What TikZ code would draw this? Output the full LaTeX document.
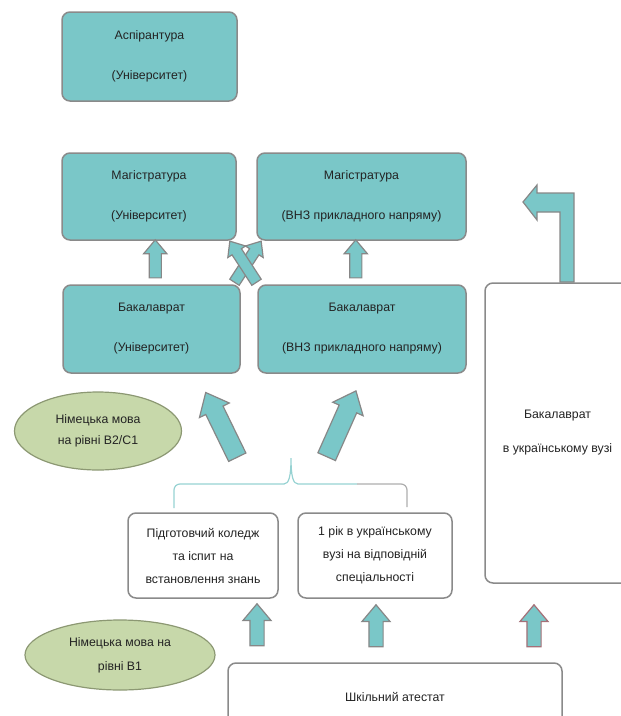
\documentclass[tikz,border=0pt]{standalone}
\usepackage{fontspec}
\setmainfont{Liberation Sans}
\usetikzlibrary{shapes.geometric,shapes.arrows,calc}

\definecolor{tealbox}{RGB}{122,199,200}
\definecolor{boxline}{RGB}{138,138,138}
\definecolor{ovalfill}{RGB}{199,216,170}
\definecolor{ovalline}{RGB}{140,152,115}
\definecolor{arrowline}{RGB}{135,135,135}
\definecolor{pinkline}{RGB}{165,112,120}
\definecolor{textgray}{RGB}{35,35,35}
\definecolor{bracecol}{RGB}{150,210,210}

\begin{document}
\begin{tikzpicture}[x=1pt, y=-1pt,
    bigbox/.style={draw=boxline, line width=1.5pt, fill=tealbox, rounded corners=8pt,
        align=center, text=textgray, inner sep=0pt, font=\fontsize{12.3}{40}\selectfont},
    whitebox/.style={draw=boxline, line width=1.5pt, fill=white, rounded corners=8pt,
        align=center, text=textgray, inner sep=0pt, font=\fontsize{12.3}{23}\selectfont},
    oval/.style={ellipse, draw=ovalline, line width=1.2pt, fill=ovalfill,
        align=center, text=textgray, inner sep=0pt, font=\fontsize{12.3}{21}\selectfont},
    blockarrow/.style={single arrow, draw=arrowline, fill=tealbox, line width=1.2pt,
        inner xsep=0pt, single arrow tip angle=80},
    smallup/.style={blockarrow, rotate=90, minimum height=38pt, inner ysep=5.5pt,
        single arrow head extend=5.5pt},
    lowup/.style={blockarrow, rotate=90, minimum height=42pt, inner ysep=6.5pt,
        single arrow head extend=7pt},
    crossarrow/.style={blockarrow, minimum height=49pt, inner ysep=5pt,
        single arrow head extend=5pt},
    fatarrow/.style={blockarrow, minimum height=72pt, inner ysep=9pt,
        single arrow head extend=7pt}
]
    \clip (0,0) rectangle (621,716);

    % Top levels
    \node[bigbox, minimum width=175pt, minimum height=89pt] (asp) at (149.5,56.5)
        {Аспірантура\\(Університет)};
    \node[bigbox, minimum width=174pt, minimum height=87pt] (mu) at (149,196.5)
        {Магістратура\\(Університет)};
    \node[bigbox, minimum width=209pt, minimum height=87pt] (mv) at (361.5,196.5)
        {Магістратура\\(ВНЗ прикладного напряму)};
    \node[bigbox, minimum width=177pt, minimum height=88pt] (bu) at (151.5,329)
        {Бакалаврат\\(Університет)};
    \node[bigbox, minimum width=208pt, minimum height=88pt] (bv) at (362,329)
        {Бакалаврат\\(ВНЗ прикладного напряму)};

    % Ukrainian bachelor, cut off at the right edge
    \node[whitebox, minimum width=145pt, minimum height=300pt,
        font=\fontsize{12.3}{34}\selectfont] (ub) at (557.5,433)
        {Бакалаврат\\в українському вузі};

    % Language levels
    \node[oval, minimum width=167pt, minimum height=78pt] (lang2) at (98,431)
        {Німецька мова\\на рівні B2/C1};
    \node[oval, minimum width=190pt, minimum height=70pt,
        font=\fontsize{12.3}{24}\selectfont] (lang1) at (120,655)
        {Німецька мова на\\рівні B1};

    % Ways in
    \node[whitebox, minimum width=150pt, minimum height=85pt] (prep) at (203,555.5)
        {Підготовчий коледж\\та іспит на\\встановлення знань};
    \node[whitebox, minimum width=154pt, minimum height=85pt] (year) at (375,555.5)
        {1 рік в українському\\вузі на відповідній\\спеціальності};
    \node[whitebox, minimum width=334pt, minimum height=68pt] (school) at (395,697)
        {Шкільний атестат};

    % Brace over the two ways in
    \coordinate (brL) at (174,508);
    \coordinate (brM) at (291,458);
    \coordinate (brS) at (357,484);
    \coordinate (brR) at (407,507);
    \draw[bracecol, line width=1.2pt, rounded corners=6pt]
        (brL) -- (174,484) -- (284,484);
    \draw[bracecol, line width=1.2pt]
        (284,484) .. controls (289,484) and (291,476) .. (brM)
        .. controls (291,476) and (293,484) .. (298,484) -- (brS);
    \draw[boxline!70, line width=1.2pt, rounded corners=6pt]
        (brS) -- (407,484) -- (brR);

    % Block arrows
    \node[smallup] (a1) at ($(mu.south)!0.5!(bu.north)+(5,0)$) {};
    \node[smallup] (a2) at ($(mv.south)!0.5!(bv.north)+(-6,0)$) {};
    \node[crossarrow, rotate=57] (x1) at (246,264.5) {};
    \node[crossarrow, rotate=123] (x2) at (245,264.5) {};
    \node[fatarrow, rotate=116] (f1) at (224,430) {};
    \node[fatarrow, rotate=66] (f2) at (339,429) {};
    \node[lowup] (b1) at (257,629) {};
    \node[lowup] (b2) at (376,630) {};
    \node[lowup, draw=pinkline] (b3) at (534,630) {};

    % Bent arrow from the Ukrainian bachelor
    \draw[draw=arrowline, fill=tealbox, line width=1.2pt, line join=miter]
        (523,202) -- (537,185) -- (537,193) -- (574,193) -- (574,282)
        -- (560,282) -- (560,212) -- (537,212) -- (537,220) -- cycle;
\end{tikzpicture}
\end{document}
